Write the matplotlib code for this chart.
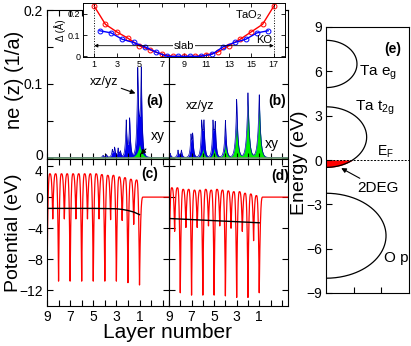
import numpy as np
import matplotlib
matplotlib.use('Agg')
import matplotlib.pyplot as plt
from matplotlib.ticker import MultipleLocator
from matplotlib.transforms import ScaledTranslation

plt.rcParams['font.family'] = ['Liberation Sans', 'DejaVu Sans']
plt.rcParams['mathtext.fontset'] = 'custom'
plt.rcParams['mathtext.rm'] = 'Liberation Sans'
plt.rcParams['mathtext.it'] = 'Liberation Sans:italic'

W, H = 411, 346

# ---- inset: displacement per plane ----
tao2_x = [1, 2, 3, 4, 5, 6, 7, 8, 9, 10, 11, 12, 13, 14, 15, 16, 17]
tao2_d = [0.235, 0.15, 0.115, 0.085, 0.05, 0.03, 0.01, 0.0, 0.0, 0.0, 0.005,
          0.02, 0.05, 0.08, 0.115, 0.15, 0.235]
ko_x = [1.5, 2.5, 3.5, 4.5, 5.5, 6.5, 7.5, 8.5, 9.5, 10.5, 11.5, 12.5, 13.5,
        14.5, 15.5, 16.5]
ko_d = [0.12, 0.11, 0.08, 0.065, 0.045, 0.02, 0.0, 0.0, 0.0, 0.0, 0.01,
        0.045, 0.065, 0.08, 0.11, 0.12]

# ---- electron density, spikes (layer, height) ----
a_xz_pos = [4.15, 3.85, 3.35, 3.15, 2.85, 2.65, 2.15, 1.85, 1.15, 0.85]
a_xz_h = [0.003, 0.004, 0.010, 0.013, 0.012, 0.008, 0.050, 0.052, 0.112, 0.112]
a_xy_pos = [1.0]
a_xy_h = [0.018]

b_xz_pos = [8.9, 8.2, 7.9, 7.05, 6.9, 6.1, 5.9, 5.1, 4.9, 4.0, 3.0, 2.0, 1.0]
b_xz_h = [0.006, 0.01, 0.01, 0.026, 0.028, 0.042, 0.042, 0.042, 0.040, 0.033,
          0.03, 0.009, 0.007]
b_xy_pos = [7.0, 6.0, 5.0, 4.0, 3.0, 2.0, 1.0]
b_xy_h = [0.002, 0.012, 0.013, 0.018, 0.049, 0.079, 0.079]

# ---- potential extrema: deep dips at layers 9..1, shallow at 8.5..1.5 ----
c_deep = [-11.0, -10.8, -10.8, -10.8, -10.8, -10.8, -10.8, -11.0, -11.3]
c_shallow = [-2.8, -2.8, -2.8, -2.8, -2.8, -2.9, -3.0, -3.5]
c_peak = [3.0, 3.0, 3.0, 3.0, 3.0, 3.0, 3.0, 3.0, 3.0, 2.9, 2.8, 2.8, 2.6,
          2.5, 2.3, 2.2]
c_avg_x = [9, 8, 7, 6, 5, 4, 3, 2.5, 2, 1.5, 1]
c_avg = [-1.45, -1.45, -1.45, -1.45, -1.45, -1.47, -1.5, -1.58, -1.72, -1.92, -2.25]

d_deep = [-12.2, -12.3, -12.6, -12.6, -12.6, -12.7, -12.9, -12.9, -12.3]
d_shallow = [-4.4, -3.9, -3.9, -3.7, -3.7, -4.0, -4.4, -5.6]
d_peak = [1.2, 1.2, 1.0, 1.0, 0.9, 0.9, 1.0, 0.9, 1.0, 0.9, 0.8, 0.7, 0.7,
          0.5, 0.4, 0.2]
d_avg_x = [9, 1]
d_avg = [-2.75, -3.3]

# ---- schematic DOS (e): band bottom, band top, half width ----
band_lo = [4.9, -0.5, -8.0]
band_hi = [8.1, 3.6, -2.25]
band_w = [1.12, 1.47, 2.17]


def box(l, t, r, b):
    return [l / W, 1 - b / H, (r - l) / W, (b - t) / H]


def spikes(x, pos, h, w):
    y = np.zeros_like(x)
    for p, hh in zip(pos, h):
        y += hh * np.exp(-np.abs(x - p) / w)
    return y


def potential(deep, shallow, peak):
    # sequence of extrema going from layer 9 to layer 1, then vacuum
    ex_x, ex_y = [9.0], [deep[0]]
    for i in range(8):
        ex_x += [8.75 - i, 8.5 - i, 8.25 - i, 8.0 - i]
        ex_y += [peak[2 * i], shallow[i], peak[2 * i + 1], deep[i + 1]]
    ex_x += [0.7]
    ex_y += [0.0]
    xs, ys = [], []
    for k in range(len(ex_x) - 1):
        t = np.linspace(0, 1, 40)
        x0, x1, y0, y1 = ex_x[k], ex_x[k + 1], ex_y[k], ex_y[k + 1]
        if y0 < y1:  # dip -> peak
            f = 1 - (1 - t) ** 3
        else:        # peak -> dip
            f = t ** 3
        xs.append(x0 + (x1 - x0) * t)
        ys.append(y0 + (y1 - y0) * f)
    xs.append([0.7, -2])
    ys.append([0.0, 0.0])
    return np.concatenate(xs), np.concatenate(ys)


def style(ax):
    ax.tick_params(direction='in', top=True, right=True, labelsize=10,
                   length=4, width=0.8, pad=3)
    ax.tick_params(which='minor', direction='in', top=True, right=True,
                   length=4, width=0.8)
    for s in ax.spines.values():
        s.set_linewidth(0.8)


fig = plt.figure(figsize=(W / 100, H / 100), dpi=100)

ax_a = fig.add_axes(box(47, 10, 169, 159))
ax_b = fig.add_axes(box(169, 10, 288, 159))
ax_c = fig.add_axes(box(47, 159, 169, 306))
ax_d = fig.add_axes(box(169, 159, 288, 306))
ax_e = fig.add_axes(box(326, 27, 409, 293))
ax_in = fig.add_axes(box(83, 3, 285, 57))

x = np.linspace(-2, 9.5, 3000)

# (a) and (b): electron density
for ax, xzp, xzh, xyp, xyh, xyw in [
        (ax_a, a_xz_pos, a_xz_h, a_xy_pos, a_xy_h, 0.22),
        (ax_b, b_xz_pos, b_xz_h, b_xy_pos, b_xy_h, 0.13)]:
    xy = spikes(x, xyp, xyh, xyw)
    tot = xy + spikes(x, xzp, xzh, 0.085)
    ax.fill_between(x, 0, tot, color='#0000ee', lw=0)
    ax.plot(x, tot, color='#0000aa', lw=0.5)
    ax.fill_between(x, 0, xy, color='#00ee00', lw=0)
    ax.axhline(0, color='#6a9a6a', lw=1.2)
    ax.set_xlim(9, -1.55)
    ax.set_ylim(-0.002, 0.2)
    ax.xaxis.set_major_locator(MultipleLocator(2))
    ax.xaxis.set_minor_locator(MultipleLocator(1))
    ax.yaxis.set_major_locator(MultipleLocator(0.1))
    ax.yaxis.set_minor_locator(MultipleLocator(0.05))
    style(ax)
    ax.tick_params(labelbottom=False)
    ax.spines['bottom'].set_visible(False)
ax_a.set_yticks([0, 0.1, 0.2], ['0', '0.1', '0.2'])
ax_b.tick_params(labelleft=False)
ax_b.set_xticks([9, 7, 5, 3, 1])

ax_a.annotate('xz/yz', xy=(1.35, 0.087), xytext=(4.05, 0.102), fontsize=9,
              ha='center', va='center',
              arrowprops=dict(arrowstyle='-|>', color='black', lw=0.8,
                              mutation_scale=7, shrinkA=0, shrinkB=0))
ax_a.annotate('xy', xy=(0.9, 0.004), xytext=(-0.6, 0.029), fontsize=10,
              ha='center', va='center',
              arrowprops=dict(arrowstyle='-|>', color='black', lw=0.8,
                              mutation_scale=7, shrinkA=3, shrinkB=0))
ax_a.text(-0.35, 0.077, '(a)', fontsize=10, fontweight='bold',
          ha='center', va='center')
ax_b.text(6.2, 0.07, 'xz/yz', fontsize=9, ha='center', va='center')
ax_b.text(-0.15, 0.018, 'xy', fontsize=10, ha='center', va='center')
ax_b.text(-0.6, 0.077, '(b)', fontsize=10, fontweight='bold',
          ha='center', va='center')

# (c) and (d): potential
for ax, deep, shal, pk, ax_x, av in [
        (ax_c, c_deep, c_shallow, c_peak, c_avg_x, c_avg),
        (ax_d, d_deep, d_shallow, d_peak, d_avg_x, d_avg)]:
    px, py = potential(deep, shal, pk)
    ax.plot(px, py, color='#ff0000', lw=0.9)
    ax.plot(ax_x, av, color='black', lw=1.0)
    ax.set_xlim(9, -1.55)
    ax.set_ylim(-14, 4.9)
    ax.set_xticks([9, 7, 5, 3, 1])
    ax.xaxis.set_minor_locator(MultipleLocator(1))
    ax.set_yticks([4, 0, -4, -8, -12])
    style(ax)
ax_d.tick_params(labelleft=False)
ax_c.text(0.1, 3.0, '(c)', fontsize=10, fontweight='bold',
          ha='center', va='center')
ax_d.text(-0.85, 2.7, '(d)', fontsize=10, fontweight='bold',
          ha='center', va='center')

# the "0" of (a) and the "4" of (c) sit close together, nudge them apart
fig.canvas.draw()
ax_a.get_yticklabels()[0].set_transform(
    ax_a.get_yticklabels()[0].get_transform()
    + ScaledTranslation(0, 2 / 72, fig.dpi_scale_trans))
ax_c.get_yticklabels()[0].set_transform(
    ax_c.get_yticklabels()[0].get_transform()
    + ScaledTranslation(0, -3 / 72, fig.dpi_scale_trans))

# inset
ax_in.plot(tao2_x, tao2_d, '-o', color='#ff0000', mfc='none', ms=3.5,
           mew=0.7, lw=1.0)
ax_in.plot(ko_x, ko_d, '-o', color='#0000ff', mfc='none', ms=3.5,
           mew=0.7, lw=1.0)
ax_in.axvline(1, color='black', ls=':', lw=0.7)
ax_in.axvline(17, color='black', ls=':', lw=0.7)
ax_in.annotate('', xy=(1, 0.05), xytext=(17, 0.05),
               arrowprops=dict(arrowstyle='<|-|>', color='black', lw=0.6,
                               mutation_scale=5, shrinkA=0, shrinkB=0))
ax_in.text(9, 0.05, 'slab', fontsize=8, ha='center', va='center',
           bbox=dict(fc='white', ec='none', pad=0.5))
ax_in.text(14.8, 0.195, 'TaO$_2$', fontsize=8, ha='center', va='center')
ax_in.text(16.1, 0.076, 'KO', fontsize=8, ha='center', va='center')
ax_in.set_xlim(0, 18)
ax_in.set_ylim(-0.003, 0.25)
ax_in.set_xticks(range(1, 18, 2))
ax_in.set_yticks([0, 0.1, 0.2], ['0', '0.1', '0.2'])
ax_in.tick_params(direction='in', labelsize=6.5, length=3, width=0.6, pad=2,
                  top=True, right=True)
for s in ax_in.spines.values():
    s.set_linewidth(0.7)
ax_in.set_ylabel('Δ (Å)', fontsize=7, labelpad=1)

# (e): schematic DOS
theta = np.linspace(0, np.pi, 200)
for lo, hi, w in zip(band_lo, band_hi, band_w):
    c = (lo + hi) / 2
    r = (hi - lo) / 2
    ax_e.plot(w * np.sin(theta), c + r * np.cos(theta), color='black', lw=0.9)
lo, hi, w = band_lo[1], band_hi[1], band_w[1]
yy = np.linspace(lo, 0, 50)
xx = w * np.sqrt(np.clip(1 - ((yy - (lo + hi) / 2) / ((hi - lo) / 2)) ** 2, 0, 1))
ax_e.fill_betweenx(yy, 0, xx, color='#ff0000', lw=0)
ax_e.axhline(0, color='black', ls='--', lw=0.7, dashes=(2, 1.5))
ax_e.set_xlim(0, 3)
ax_e.set_ylim(-9, 9)
ax_e.set_xticks([1, 2])
ax_e.set_yticks([9, 6, 3, 0, -3, -6, -9])
style(ax_e)
ax_e.tick_params(labelbottom=False, top=False, right=False)
ax_e.text(2.42, 7.5, '(e)', fontsize=10, fontweight='bold', ha='center',
          va='center')
ax_e.text(1.2, 5.9, 'Ta e$_\\mathrm{g}$', fontsize=11, ha='left', va='center')
ax_e.text(1.05, 3.5, 'Ta t$_\\mathrm{2g}$', fontsize=11, ha='left',
          va='center')
ax_e.text(1.85, 0.55, 'E$_\\mathrm{F}$', fontsize=10, ha='left', va='center')
ax_e.annotate('2DEG', xy=(0.55, -0.55), xytext=(1.12, -1.9), fontsize=11,
              ha='left', va='center',
              arrowprops=dict(arrowstyle='-|>', color='black', lw=0.8,
                              mutation_scale=7, shrinkA=0, shrinkB=0))
ax_e.text(2.1, -6.6, 'O p', fontsize=11, ha='left', va='center')

# axis labels
fig.text(14 / W, 1 - 80 / H, 'ne (z) (1/a)', rotation=90, fontsize=14.5,
         ha='center', va='center')
fig.text(13 / W, 1 - 233 / H, 'Potential (eV)', rotation=90, fontsize=14,
         ha='center', va='center')
fig.text(167 / W, 1 - 333 / H, 'Layer number', fontsize=15, ha='center',
         va='center')
fig.text(299 / W, 1 - 163 / H, 'Energy (eV)', rotation=90, fontsize=14,
         ha='center', va='center')

fig.savefig('out.png', dpi=100)
